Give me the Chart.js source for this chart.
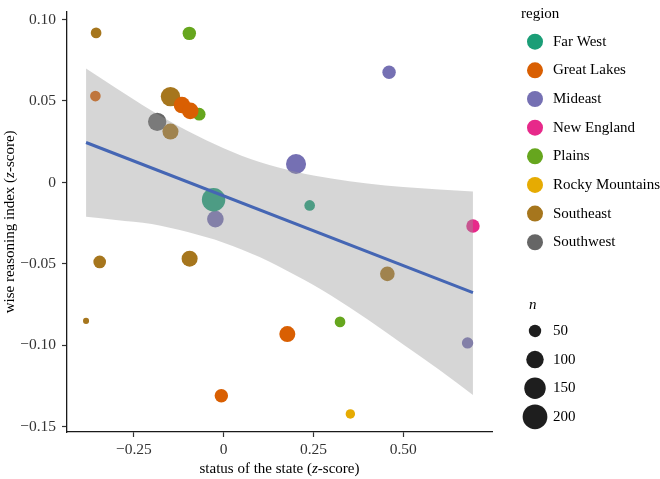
<!DOCTYPE html>
<html><head><meta charset="utf-8">
<script src="https://cdn.jsdelivr.net/npm/chart.js@4.4.1/dist/chart.umd.min.js"></script>
<style>html,body{margin:0;padding:0;background:#fff;}#wrap{width:660px;height:479px;}</style>
</head><body><div id="wrap"><canvas id="c" width="660" height="479"></canvas></div>
<script>
// ---- data ----
const regions = ['Far West','Great Lakes','Mideast','New England','Plains','Rocky Mountains','Southeast','Southwest'];
const regionColors = ['#1B9E77','#D95F02','#7570B3','#E7298A','#66A61E','#E6AB02','#A6761D','#666666'];
const pointRegion = ['Southeast','Plains','Great Lakes','Southeast','Great Lakes','Great Lakes','Plains','Southwest','Southeast','Mideast','Far West','Far West','Mideast','Mideast','New England','Southeast','Southeast','Southeast','Great Lakes','Great Lakes','Southeast','Plains','Mideast','Rocky Mountains'];
const pointX = [-0.355,-0.0955,-0.357,-0.148,-0.116,-0.093,-0.068,-0.185,-0.148,0.2015,-0.028,0.2395,-0.023,0.4605,0.694,-0.345,-0.0947,-0.383,0.1773,-0.0064,0.4557,0.324,0.679,0.3527];
const pointY = [0.0918,0.0915,0.0530,0.0527,0.0475,0.0439,0.0419,0.0372,0.0312,0.0113,-0.0106,-0.0141,-0.0225,0.0676,-0.0267,-0.0488,-0.0468,-0.0850,-0.0931,-0.1309,-0.0561,-0.0856,-0.0985,-0.1421];
const pointN = [37,59,37,123,90,90,52,110,84,131,179,37,90,59,59,52,84,12,84,59,70,37,42,29];
const lineX = [-0.383, 0.694];
const lineY = [0.0245, -0.0676];
const bandX = [-0.383,-0.3,-0.2,-0.1,0,0.1,0.2,0.3,0.4,0.5,0.6,0.694];
const bandUpper = [0.070,0.058,0.044,0.0315,0.021,0.0125,0.0066,0.0024,-0.0006,-0.0028,-0.0043,-0.0055];
const bandLower = [-0.021,-0.023,-0.0255,-0.0305,-0.037,-0.0458,-0.057,-0.0695,-0.084,-0.0995,-0.115,-0.1305];
const xTicks = [-0.25, 0, 0.25, 0.5];
const xTickLabels = ['\u22120.25','0','0.25','0.50'];
const yTicks = [0.10, 0.05, 0, -0.05, -0.10, -0.15];
const yTickLabels = ['0.10','0.05','0','\u22120.05','\u22120.10','\u22120.15'];
const sizeBreaks = [50, 100, 150, 200];
const xRange = [-0.436, 0.747];
const yRange = [-0.1532, 0.1048];
const xTitleParts = [['status of the state (', false], ['z', true], ['-score)', false]];
const yTitleParts = [['wise reasoning index (', false], ['z', true], ['-score)', false]];

// ---- styling helpers ----
const FONT = 'Liberation Serif';
const sizeToRadius = n => 0.875 * Math.sqrt(n);

const pointSets = regions.map((name, ri) => ({
  type: 'scatter',
  label: name,
  data: pointX.map((x, i) => ({x: x, y: pointY[i], n: pointN[i], reg: pointRegion[i]})).filter(p => p.reg === name),
  backgroundColor: regionColors[ri],
  borderColor: 'rgba(0,0,0,0)',
  borderWidth: 0,
  pointRadius: ctx => (ctx.raw ? sizeToRadius(ctx.raw.n) : 0),
  pointHoverRadius: ctx => (ctx.raw ? sizeToRadius(ctx.raw.n) : 0),
  order: 3
}));

const bandSets = [
  {type: 'line', label: 'ci-upper', data: bandX.map((x, i) => ({x: x, y: bandUpper[i]})),
   fill: '+1', backgroundColor: 'rgba(153,153,153,0.4)', borderColor: 'rgba(0,0,0,0)', borderWidth: 0,
   pointRadius: 0, cubicInterpolationMode: 'monotone', order: 2},
  {type: 'line', label: 'ci-lower', data: bandX.map((x, i) => ({x: x, y: bandLower[i]})),
   fill: false, borderColor: 'rgba(0,0,0,0)', borderWidth: 0,
   pointRadius: 0, cubicInterpolationMode: 'monotone', order: 2}
];

const fitSet = {type: 'line', label: 'fit', data: lineX.map((x, i) => ({x: x, y: lineY[i]})),
  borderColor: '#4566B4', borderWidth: 3, pointRadius: 0, fill: false, order: 1};

function drawMixed(ctx, parts, cx, cy, size) {
  let total = 0;
  const widths = parts.map(p => {
    ctx.font = (p[1] ? 'italic ' : '') + size + 'px "' + FONT + '"';
    const w = ctx.measureText(p[0]).width; total += w; return w;
  });
  let x = cx - total / 2;
  ctx.textAlign = 'left';
  parts.forEach((p, i) => {
    ctx.font = (p[1] ? 'italic ' : '') + size + 'px "' + FONT + '"';
    ctx.fillText(p[0], x, cy);
    x += widths[i];
  });
}

const overlay = {
  id: 'overlay',
  afterDraw(chart) {
    const ctx = chart.ctx;
    const ca = chart.chartArea;
    ctx.save();
    ctx.fillStyle = '#000';
    ctx.textBaseline = 'middle';
    drawMixed(ctx, xTitleParts, (ca.left + ca.right) / 2, 469.5, 15);
    ctx.save();
    ctx.translate(10, (ca.top + ca.bottom) / 2);
    ctx.rotate(-Math.PI / 2);
    drawMixed(ctx, yTitleParts, 0, 0, 15);
    ctx.restore();

    // region legend
    const lx = ca.right;
    ctx.textAlign = 'left';
    ctx.font = '15px "' + FONT + '"';
    ctx.fillStyle = '#000';
    ctx.fillText('region', lx + 29, 14);
    regions.forEach((name, i) => {
      const y = 41.7 + i * 28.65;
      ctx.beginPath();
      ctx.arc(lx + 43, y, 8, 0, Math.PI * 2);
      ctx.fillStyle = regionColors[i];
      ctx.fill();
      ctx.fillStyle = '#000';
      ctx.fillText(name, lx + 61, y);
    });

    // size legend
    ctx.font = 'italic 15px "' + FONT + '"';
    ctx.fillText('n', lx + 37, 305);
    ctx.font = '15px "' + FONT + '"';
    sizeBreaks.forEach((n, i) => {
      const y = 331 + i * 28.6;
      ctx.beginPath();
      ctx.arc(lx + 43, y, sizeToRadius(n), 0, Math.PI * 2);
      ctx.fillStyle = '#1e1e1e';
      ctx.fill();
      ctx.fillStyle = '#000';
      ctx.fillText(String(n), lx + 61, y);
    });
    ctx.restore();
  }
};

new Chart(document.getElementById('c'), {
  type: 'scatter',
  data: {datasets: [...pointSets, ...bandSets, fitSet]},
  options: {
    responsive: false,
    animation: false,
    events: [],
    layout: {padding: {left: 0, top: 0, right: 168, bottom: 0}},
    plugins: {legend: {display: false}, tooltip: {enabled: false}, title: {display: false}},
    scales: {
      x: {
        type: 'linear', min: xRange[0], max: xRange[1],
        afterBuildTicks: s => { s.ticks = xTicks.map(v => ({value: v})); },
        afterFit: s => { s.height = 47; s.paddingLeft = 0; s.paddingRight = 0; },
        ticks: {callback: v => xTickLabels[xTicks.indexOf(v)], font: {family: FONT, size: 15.5}, color: '#333', padding: 4, maxRotation: 0, autoSkip: false},
        grid: {display: true, drawOnChartArea: false, drawTicks: true, tickLength: 5, tickColor: '#333', tickWidth: 1.2},
        border: {display: true, color: '#1a1a1a', width: 1.3}
      },
      y: {
        type: 'linear', min: yRange[0], max: yRange[1],
        afterBuildTicks: s => { s.ticks = yTicks.map(v => ({value: v})); },
        afterFit: s => { s.width = 67; s.paddingTop = 0; s.paddingBottom = 0; },
        ticks: {callback: v => yTickLabels[yTicks.indexOf(v)], font: {family: FONT, size: 15.5}, color: '#333', padding: 6, autoSkip: false},
        grid: {display: true, drawOnChartArea: false, drawTicks: true, tickLength: 5, tickColor: '#333', tickWidth: 1.2},
        border: {display: true, color: '#1a1a1a', width: 1.3}
      }
    }
  },
  plugins: [overlay]
});
</script>
</body></html>
